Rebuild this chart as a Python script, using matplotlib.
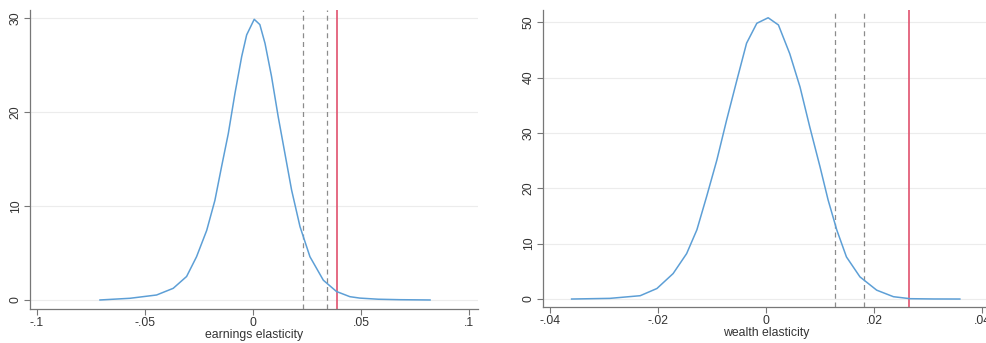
import matplotlib
matplotlib.use("Agg")
import matplotlib.pyplot as plt
import matplotlib.ticker as tic

plt.rcParams['font.family'] = ['Liberation Sans', 'DejaVu Sans']

# --- earnings elasticity (left panel) ---
earn_x = [-0.0708, -0.0569, -0.0446, -0.0369, -0.0307, -0.0261, -0.0214, -0.0176,
          -0.0145, -0.0114, -0.0083, -0.0052, -0.0029, 0.0006, 0.0032, 0.0056,
          0.0086, 0.0117, 0.0148, 0.0179, 0.0218, 0.0264, 0.0326, 0.0387,
          0.0449, 0.0495, 0.0580, 0.0680, 0.0820]
earn_y = [0.0, 0.18, 0.53, 1.24, 2.5, 4.6, 7.4, 10.6,
          14.2, 17.7, 22.0, 25.9, 28.2, 29.86, 29.3, 27.3,
          23.8, 19.5, 15.6, 11.7, 7.8, 4.6, 2.1, 0.9,
          0.35, 0.2, 0.08, 0.03, 0.0]
earn_dash = [0.0231, 0.0343]
earn_red = 0.0389

# --- wealth elasticity (right panel) ---
wealth_x = [-0.0360, -0.0289, -0.0233, -0.0202, -0.0172, -0.0147, -0.0128, -0.0110,
            -0.0091, -0.0073, -0.0054, -0.0036, -0.0017, 0.0004, 0.0023, 0.0044,
            0.0063, 0.0081, 0.0100, 0.0115, 0.0131, 0.0149, 0.0174, 0.0205,
            0.0236, 0.0267, 0.0310, 0.0359]
wealth_y = [0.0, 0.12, 0.6, 1.9, 4.6, 8.2, 12.5, 18.5,
            25.1, 32.3, 39.5, 46.2, 49.8, 50.8, 49.5, 44.3,
            38.3, 31.1, 23.9, 17.9, 12.5, 7.6, 4.0, 1.6,
            0.42, 0.06, 0.01, 0.0]
wealth_dash = [0.0128, 0.0181]
wealth_red = 0.0265

blue = '#5d9fd6'
red = '#e0526e'
grey = '#8c8c8c'

def fmt(v, pos):
    if abs(v) < 1e-12:
        return '0'
    s = ('%g' % v)
    return s.replace('0.', '.')

fig = plt.figure(figsize=(9.86, 3.43), dpi=100)
ax1 = fig.add_axes([30/986, 34/343, 448/986, 299/343])
ax2 = fig.add_axes([543/986, 36/343, 446/986, 297/343])

panels = [
    (ax1, earn_x, earn_y, earn_dash, earn_red, 'earnings elasticity',
     (-0.1032, 0.1042), (-0.96, 30.85), [-0.1, -0.05, 0, 0.05, 0.1], [0, 10, 20, 30]),
    (ax2, wealth_x, wealth_y, wealth_dash, wealth_red, 'wealth elasticity',
     (-0.0413, 0.0413), (-1.44, 52.2), [-0.04, -0.02, 0, 0.02, 0.04], [0, 10, 20, 30, 40, 50]),
]

for ax, xs, ys, dash, rline, lab, xl, yl, xt, yt in panels:
    ax.plot(xs, ys, color=blue, linewidth=1.1, zorder=3, solid_joinstyle='round')
    for d in dash:
        ax.axvline(d, color=grey, linestyle=(0, (4, 3)), linewidth=0.9, zorder=2)
    ax.axvline(rline, color=red, linewidth=1.2, zorder=2)
    ax.set_xlim(xl)
    ax.set_ylim(yl)
    ax.set_xticks(xt)
    ax.set_yticks(yt)
    ax.xaxis.set_major_formatter(tic.FuncFormatter(fmt))
    ax.grid(axis='y', color='#ececec', linewidth=0.8)
    ax.set_axisbelow(True)
    for sp in ['top', 'right']:
        ax.spines[sp].set_visible(False)
    for sp in ['left', 'bottom']:
        ax.spines[sp].set_color('#777777')
        ax.spines[sp].set_linewidth(0.9)
    ax.tick_params(colors='#777777', labelcolor='#333333', labelsize=8.8, length=4, width=0.8)
    ax.tick_params(axis='x', pad=1.5)
    ax.tick_params(axis='y', pad=2)
    for t in ax.get_yticklabels():
        t.set_rotation(90)
        t.set_va('center')
    ax.set_xlabel(lab, fontsize=8.8, color='#333333', labelpad=0)

fig.savefig('out.png', dpi=100)
